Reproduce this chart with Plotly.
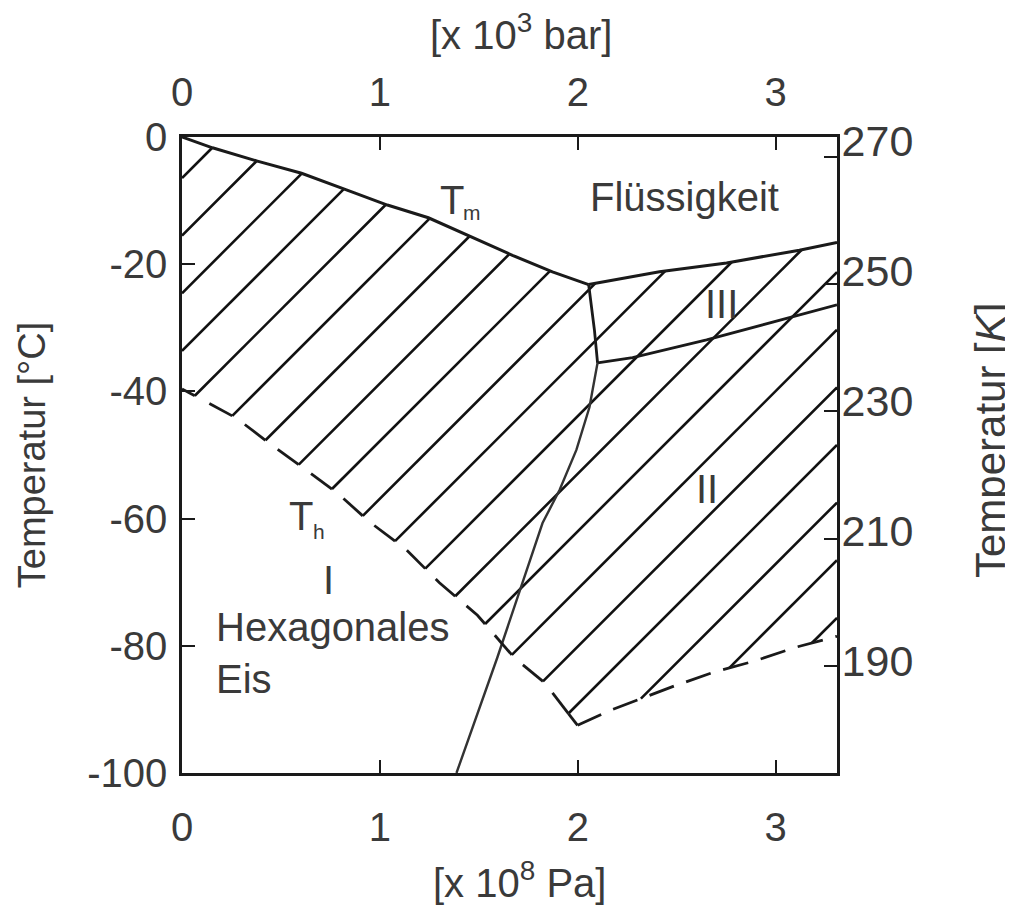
import plotly.graph_objects as go

# ---------------- data (pressure in 10^8 Pa = 10^3 bar, temperature in °C) ----------------
P_TICKS = [0, 1, 2, 3]
T_TICKS = [0, -20, -40, -60, -80, -100]
K_TICKS = [190, 210, 230, 250, 270]

# melting curve T_m (liquid / ice I)
TM_P = [0.0, 0.154, 0.381, 0.604, 0.831, 1.038, 1.245, 1.453, 1.670, 1.872, 2.055]
TM_T = [0.0, -1.7, -3.8, -5.7, -8.3, -10.7, -12.7, -15.6, -18.6, -21.2, -23.2]
# liquid / ice III
L3_P = [2.055, 2.413, 2.752, 3.120, 3.31]
L3_T = [-23.2, -21.2, -19.8, -17.8, -16.6]
# ice I / ice III
I3_P = [2.055, 2.084, 2.100]
I3_T = [-23.2, -30.3, -35.5]
# ice III / ice II
III_II_P = [2.100, 2.277, 2.651, 3.055, 3.31]
III_II_T = [-35.5, -34.7, -31.9, -28.5, -26.4]
# ice I / ice II
I_II_P = [2.100, 2.059, 1.993, 1.908, 1.822, 1.721, 1.594, 1.387]
I_II_T = [-35.5, -42.5, -49.2, -55.5, -60.7, -70.1, -81.8, -100.0]
# homogeneous nucleation limit T_h
TH_P = [0.0, 0.275, 0.452, 0.629, 0.786, 0.947, 1.134, 1.301, 1.493, 1.680, 1.832, 1.999]
TH_T = [-39.6, -44.2, -48.4, -52.4, -56.0, -60.5, -64.9, -70.1, -75.2, -81.9, -85.8, -92.5]
# lower limit in the ice II region (dashed)
II_LOW_P = [1.999, 2.160, 2.489, 2.691, 2.893, 3.105, 3.31]
II_LOW_T = [-92.5, -90.2, -86.3, -84.1, -82.4, -80.2, -78.5]

# ---------------- layout geometry / style ----------------
W, H = 1013, 917
ML, MR, MT, MB = 174, 184, 129, 152      # page body adds 8 px on the left/top
XMIN, XMAX = 0.0, 3.31
YMIN, YMAX = -100.0, 0.0
K_LABEL_RANGE = [172.77, 270.62]
K_TICK_RANGE = [173.15, 273.15]

PW, PH = W - ML - MR, H - MT - MB
SX = PW / (XMAX - XMIN)
SY = PH / (YMAX - YMIN)

# hatching (decorative): 45° lines in screen space
HATCH_T0 = -6.45     # °C where first hatch line meets p = 0
HATCH_DT = 9.06      # °C spacing along p = 0
HATCH_N = 20
TH_DASH_PX = 26

INK = "#1a1a1a"
TXT = "#3a3a3a"
FONT = "Liberation Sans, Arial, sans-serif"


def to_px(p, t):
    return ((p - XMIN) * SX, (YMAX - t) * SY)


def to_data(u, v):
    return (u / SX + XMIN, YMAX - v / SY)


def hatch_c(k):
    u, v = to_px(0.0, HATCH_T0 - k * HATCH_DT)
    return u + v


# hatched region polygon
poly = list(zip(TM_P, TM_T)) + list(zip(L3_P[1:], L3_T[1:])) \
    + list(zip(II_LOW_P[::-1], II_LOW_T[::-1])) + list(zip(TH_P[::-1][1:], TH_T[::-1][1:]))
poly_px = [to_px(p, t) for p, t in poly]

hx, hy = [], []
for k in range(HATCH_N):
    c = hatch_c(k)
    us = []
    n = len(poly_px)
    for i in range(n):
        u1, v1 = poly_px[i]
        u2, v2 = poly_px[(i + 1) % n]
        f1, f2 = u1 + v1 - c, u2 + v2 - c
        if (f1 > 0) != (f2 > 0):
            s = f1 / (f1 - f2)
            us.append(u1 + s * (u2 - u1))
    us.sort()
    for j in range(0, len(us) - 1, 2):
        for u in (us[j], us[j + 1]):
            p, t = to_data(u, c - u)
            hx.append(p)
            hy.append(t)
        hx.append(None)
        hy.append(None)

# T_h drawn as dashes that end at each hatch foot
th_px = [to_px(p, t) for p, t in zip(TH_P, TH_T)]
cum = [0.0]
for i in range(1, len(th_px)):
    du = th_px[i][0] - th_px[i - 1][0]
    dv = th_px[i][1] - th_px[i - 1][1]
    cum.append(cum[-1] + (du * du + dv * dv) ** 0.5)


def th_point(s):
    for i in range(1, len(th_px)):
        if s <= cum[i] or i == len(th_px) - 1:
            f = (s - cum[i - 1]) / (cum[i] - cum[i - 1])
            u = th_px[i - 1][0] + f * (th_px[i][0] - th_px[i - 1][0])
            v = th_px[i - 1][1] + f * (th_px[i][1] - th_px[i - 1][1])
            return u, v


feet = []
for k in range(HATCH_N):
    c = hatch_c(k)
    for i in range(1, len(th_px)):
        u1, v1 = th_px[i - 1]
        u2, v2 = th_px[i]
        f1, f2 = u1 + v1 - c, u2 + v2 - c
        if (f1 > 0) != (f2 > 0):
            s = f1 / (f1 - f2)
            feet.append(cum[i - 1] + s * (cum[i] - cum[i - 1]))
intervals = [(max(0.0, s - TH_DASH_PX), s) for s in feet]
if feet:
    intervals.append((feet[-1], cum[-1]))
tx, ty = [], []
for a, b in intervals:
    pts = [a] + [s for s in cum if a < s < b] + [b]
    for s in pts:
        p, t = to_data(*th_point(s))
        tx.append(p)
        ty.append(t)
    tx.append(None)
    ty.append(None)

fig = go.Figure()


def line(x, y, width=2.5, dash="solid", color=INK, xaxis="x", yaxis="y"):
    fig.add_trace(go.Scatter(x=x, y=y, mode="lines", xaxis=xaxis, yaxis=yaxis,
                             line=dict(color=color, width=width, dash=dash),
                             hoverinfo="skip", showlegend=False))


line(hx, hy, width=2.6, color="#111111")
line(TM_P, TM_T, width=3)
line(L3_P, L3_T, width=3)
line(I3_P, I3_T, width=2.8)
line(III_II_P, III_II_T, width=2.8)
line(I_II_P, I_II_T, width=2.4, color="#333333")
line(tx, ty, width=2.8)
line(II_LOW_P, II_LOW_T, width=2.8, dash="26px,13px", xaxis="x2")

# empty anchors so the Kelvin axes (labels / tick marks) are drawn
for ax in ("y2", "y3"):
    fig.add_trace(go.Scatter(x=[None], y=[None], mode="lines", yaxis=ax,
                             hoverinfo="skip", showlegend=False))


# ---------------- text labels ----------------
def label(x, y, text, size=40, xanchor="center", yanchor="middle", align="center"):
    fig.add_annotation(x=x, y=y, xref="x", yref="y", text=text, showarrow=False,
                       xanchor=xanchor, yanchor=yanchor, align=align,
                       font=dict(family=FONT, size=size, color=TXT))


label(1.362, -9.9, "T")
label(1.466, -11.8, "m", size=21)
label(2.539, -9.4, "Flüssigkeit")
label(2.726, -26.3, "III")
label(2.655, -55.3, "II")
label(0.599, -59.6, "T")
label(0.690, -62.0, "h", size=21)
label(0.740, -69.6, "I")
label(0.164, -81.2, "Hexagonales<br>Eis", xanchor="left", align="left")


def paper_title(px, py, text, size=40, angle=0):
    # px, py: page position of the title centre
    fig.add_annotation(x=(px - 8 - ML) / PW, y=(H - MB - (py - 8)) / PH, xref="paper", yref="paper",
                       text=text, showarrow=False, xanchor="center", yanchor="middle",
                       textangle=angle, font=dict(family=FONT, size=size, color=TXT))


paper_title(521, 32, "[x 10<sup>3</sup> bar]")
paper_title(519, 880, "[x 10<sup>8</sup> Pa]")
paper_title(990, 441, "Temperatur [<i>K</i>]", size=42, angle=-90)

axis_common = dict(showgrid=False, zeroline=False, ticks="inside", ticklen=13, tickwidth=2,
                   tickcolor=INK, showline=True, linecolor=INK, automargin=False,
                   tickfont=dict(family=FONT, size=40, color=TXT))

fig.update_layout(
    template="none",
    width=W, height=H,
    margin=dict(l=ML, r=MR, t=MT, b=MB, pad=0),
    paper_bgcolor="white", plot_bgcolor="white",
    font=dict(family=FONT, color=TXT),
    showlegend=False,
    xaxis=dict(axis_common, range=[XMIN, XMAX], tickvals=P_TICKS,
               ticktext=[str(v) for v in P_TICKS], linewidth=3,
               ticklabelstandoff=17),
    xaxis2=dict(axis_common, range=[XMIN, XMAX], tickvals=P_TICKS,
                ticktext=[str(v) for v in P_TICKS], overlaying="x", side="top",
                anchor="y", linewidth=2.5, ticklabelstandoff=12),
    yaxis=dict(axis_common, range=[YMIN, YMAX], tickvals=T_TICKS,
               ticktext=[str(v) for v in T_TICKS], linewidth=2.5,
               ticklabelstandoff=4,
               title=dict(text="Temperatur [°C]", font=dict(size=38, color=TXT), standoff=30)),
    yaxis2=dict(axis_common, range=K_LABEL_RANGE, tickvals=K_TICKS,
                ticktext=[str(v) for v in K_TICKS], overlaying="y", side="right",
                anchor="x", ticks="", ticklen=0, linewidth=3, ticklabelstandoff=-7,
                tickfont=dict(family=FONT, size=43, color=TXT)),
    yaxis3=dict(axis_common, range=K_TICK_RANGE, tickvals=K_TICKS, overlaying="y", side="right",
                anchor="x", showticklabels=False, showline=False),
)

fig.write_html("out.html")
